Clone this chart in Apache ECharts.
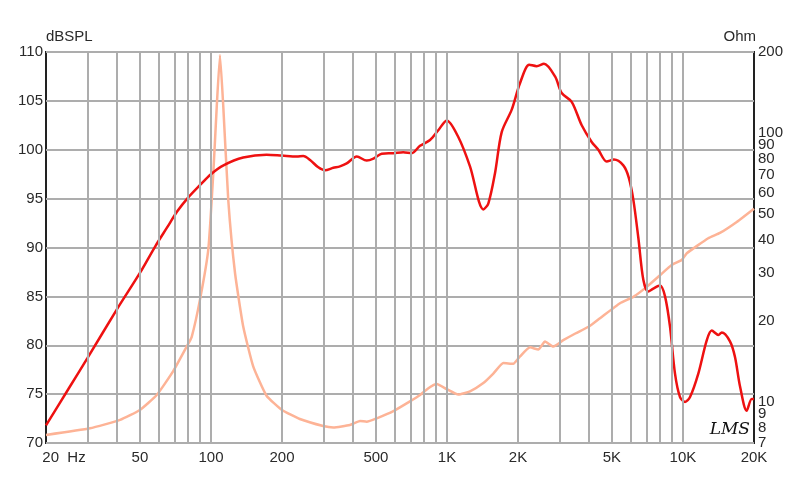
<!DOCTYPE html>
<html>
<head>
<meta charset="utf-8">
<script src="https://cdn.jsdelivr.net/npm/echarts@6/dist/echarts.min.js"></script>
<style>
html,body{margin:0;padding:0;background:#fff;}
#chart{width:800px;height:484px;}
</style>
</head>
<body>
<div id="chart"></div>
<script>
// ---- Data ----
const freqSPL = [20,25,30,40,50,58,65,72,80,90,100,113,137,172,200,231,246,263,285,304,330,352,376,415,457,488,529,593,653,709,769,848,919,998,1117,1252,1426,1497,1598,1706,1881,2039,2233,2399,2577,2871,3064,3377,3724,4104,4378,4751,5100,5588,5885,6161,6470,6793,7130,7486,7994,8395,8813,9253,9716,10203,10713,11616,12611,13243,14129,14600,15821,16614,17446,18622,19550,20000];
const splDB = [71.8,75.6,78.7,83.7,87.4,90.1,92.0,93.7,95.1,96.4,97.5,98.4,99.2,99.5,99.4,99.3,99.35,98.95,98.2,97.9,98.15,98.3,98.6,99.3,98.9,99.1,99.6,99.65,99.75,99.65,100.4,101.0,102.0,103.0,101.3,98.3,93.9,94.5,97.6,101.8,104.1,106.8,108.7,108.55,108.8,107.5,105.8,104.9,102.5,100.8,100.0,98.8,99.0,98.4,97.2,94.9,91.0,86.7,85.5,85.8,86.1,85.0,81.9,77.1,74.7,74.2,74.7,77.1,80.5,81.5,81.05,81.3,80.4,78.8,75.8,73.3,74.5,74.5];

const freqZ = [20,30.7,41.2,50,58.9,69.3,78.9,82.9,90.3,97.5,102.3,105.8,109.2,112.8,118.4,126.5,137,151,172,200,238,299,330,388,428,457,504,593,697,769,834,905,998,1117,1252,1426,1572,1734,1910,2039,2249,2438,2603,2822,3111,3500,4000,4452,5409,6161,7022,7994,8956,9878,10380,12800,14350,16900,20000];
const ohm = [7.5,7.94,8.53,9.29,10.56,13.0,16.0,17.4,24.5,37,70.6,125,195,125,56.2,30.0,19.0,13.5,10.5,9.29,8.6,8.1,8.0,8.17,8.46,8.4,8.65,9.2,10.0,10.56,11.2,11.6,11.1,10.6,10.9,11.7,12.7,13.9,13.8,14.7,15.9,15.6,16.7,16.0,16.9,17.9,19.0,20.4,23.2,24.5,26.7,29.5,32.2,33.6,35.6,40.5,42.4,46.6,52.2];

const xTickValues = [20,50,100,200,500,1000,2000,5000,10000,20000];
const ohmTickValues = [7,8,9,10,20,30,40,50,60,70,80,90,100,200];
const xGridValues = [30,40,50,60,70,80,90,100,200,300,400,500,600,700,800,900,1000,2000,3000,4000,5000,6000,7000,8000,9000,10000];

// ---- Chart ----
const FONT = '"Liberation Sans", Arial, sans-serif';
const TXT = '#2a2a2a';
const GRIDC = '#adadad';

const chart = echarts.init(document.getElementById('chart'), null, {renderer: 'canvas'});

function xLabel(v) {
  if (Math.abs(v - 20) < 0.01) return '{hz|20  Hz}';
  if (v >= 1000) return (v / 1000) + 'K';
  return String(v);
}

const option = {
  animation: false,
  backgroundColor: '#ffffff',
  grid: {
    left: 46, right: 46, top: 52, bottom: 41,
    show: true, borderColor: '#222', borderWidth: 2, backgroundColor: 'transparent'
  },
  xAxis: {
    type: 'log', logBase: 10, min: 20, max: 20000,
    axisLine: {show: false}, axisTick: {show: false}, splitLine: {show: false},
    axisLabel: {
      customValues: xTickValues,
      formatter: xLabel,
      color: TXT, fontSize: 15, fontFamily: FONT, margin: 7,
      rich: {hz: {fontSize: 15, fontFamily: FONT, color: TXT, padding: [0, 0, 0, 36]}}
    }
  },
  yAxis: [
    {
      type: 'value', min: 70, max: 110, interval: 5, position: 'left',
      name: 'dBSPL', nameLocation: 'end', nameGap: 6,
      nameTextStyle: {color: TXT, fontSize: 15, fontFamily: FONT, align: 'left', padding: [0, 0, 0, 0]},
      axisLine: {show: false}, axisTick: {show: false},
      splitLine: {show: true, lineStyle: {color: GRIDC, width: 2}},
      axisLabel: {color: TXT, fontSize: 15, fontFamily: FONT, margin: 3}
    },
    {
      type: 'log', logBase: 10, min: 7, max: 200, position: 'right',
      name: 'Ohm', nameLocation: 'end', nameGap: 6,
      nameTextStyle: {color: TXT, fontSize: 15, fontFamily: FONT, align: 'right', padding: [0, -2, 0, 0]},
      axisLine: {show: false}, axisTick: {show: false}, splitLine: {show: false},
      axisLabel: {customValues: ohmTickValues, color: TXT, fontSize: 15, fontFamily: FONT, margin: 4}
    }
  ],
  graphic: [
    {type: 'text', right: 50, bottom: 46, z: 10,
     style: {text: 'LMS', fill: '#111', font: 'italic 17px "DejaVu Serif", serif'}}
  ],
  series: [
    {
      type: 'line', data: [], silent: true, z: 1,
      markLine: {
        silent: true, symbol: ['none', 'none'], label: {show: false}, animation: false,
        lineStyle: {color: GRIDC, width: 2, type: 'solid'},
        data: xGridValues.map(v => ({xAxis: v}))
      }
    },
    {
      name: 'Impedance', type: 'line', xAxisIndex: 0, yAxisIndex: 1, z: 3,
      data: freqZ.map((f, i) => [f, ohm[i]]),
      showSymbol: false, smooth: 0.15,
      lineStyle: {color: '#fdb396', width: 2.5}
    },
    {
      name: 'SPL', type: 'line', xAxisIndex: 0, yAxisIndex: 0, z: 4,
      data: freqSPL.map((f, i) => [f, splDB[i]]),
      showSymbol: false, smooth: 0.3,
      lineStyle: {color: '#ee1111', width: 2.5}
    }
  ]
};
chart.setOption(option);
</script>
</body>
</html>
